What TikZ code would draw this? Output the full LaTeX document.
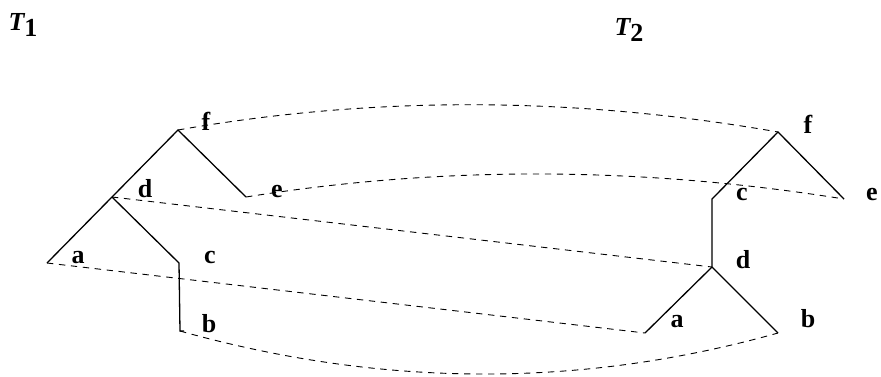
\documentclass[tikz,border=0pt]{standalone}
\usepackage{fontspec}
\setmainfont{Liberation Serif}
\usepackage{tikz}
\usetikzlibrary{positioning}

\begin{document}
\begin{tikzpicture}[
        x=0.5pt,y=-0.5pt,
        lbl/.style={font=\fontsize{13}{15}\selectfont\bfseries,anchor=base,inner sep=0pt},
        ttl/.style={font=\fontsize{13}{15}\selectfont\bfseries\itshape,inner sep=0pt},
        br/.style={line width=0.65pt,line join=miter},
        match/.style={dash pattern=on 3.2pt off 2.8pt,line width=0.45pt}
      ]
        \useasboundingbox (0,0) rectangle (881,376);
        % tree T1
        \node[ttl] (t1) at (23,25) {T\raisebox{-0.5ex}{\upshape 1}};
        \coordinate (f1) at (178,130);
        \coordinate (e1) at (246,197);
        \coordinate (d1) at (112,197);
        \coordinate (a1) at (47,263);
        \coordinate (c1) at (179,263);
        \coordinate (b1) at (180,331);
        \draw[br] (e1)--(f1)--(d1)--(a1);
        \draw[br] (d1)--(c1)--(b1)--++(4,0);
        \node[lbl] (lf1) at (206,130) {f};
        \node[lbl] (ld1) at (145,197) {d};
        \node[lbl] (le1) at (277,197) {e};
        \node[lbl] (la1) at (78,263) {a};
        \node[lbl] (lc1) at (210,263) {c};
        \node[lbl] (lb1) at (209,332) {b};
        % tree T2
        \node[ttl] (t2) at (629,30) {T\raisebox{-0.5ex}{\upshape 2}};
        \coordinate (f2) at (778,132);
        \coordinate (e2) at (844,199);
        \coordinate (c2) at (712,199);
        \coordinate (d2) at (712,267);
        \coordinate (a2) at (645,333);
        \coordinate (b2) at (778,333);
        \draw[br] (e2)--(f2)--(c2)--(d2)--(a2);
        \draw[br] (d2)--(b2);
        \node[lbl] (lf2) at (808,133) {f};
        \node[lbl] (lc2) at (742,200) {c};
        \node[lbl] (le2) at (872,200) {e};
        \node[lbl] (ld2) at (743,268) {d};
        \node[lbl] (la2) at (677,327) {a};
        \node[lbl] (lb2) at (808,327) {b};
        % matching
        \draw[match] (f1) .. controls +(200,-35) and +(-200,-35) .. (f2);
        \draw[match] (e1) .. controls +(200,-32) and +(-200,-32) .. (e2);
        \draw[match] (d1) -- (d2);
        \draw[match] (a1) -- (a2);
        \draw[match] (b1) .. controls +(200,56) and +(-200,56) .. (b2);
      \end{tikzpicture}
\end{document}
